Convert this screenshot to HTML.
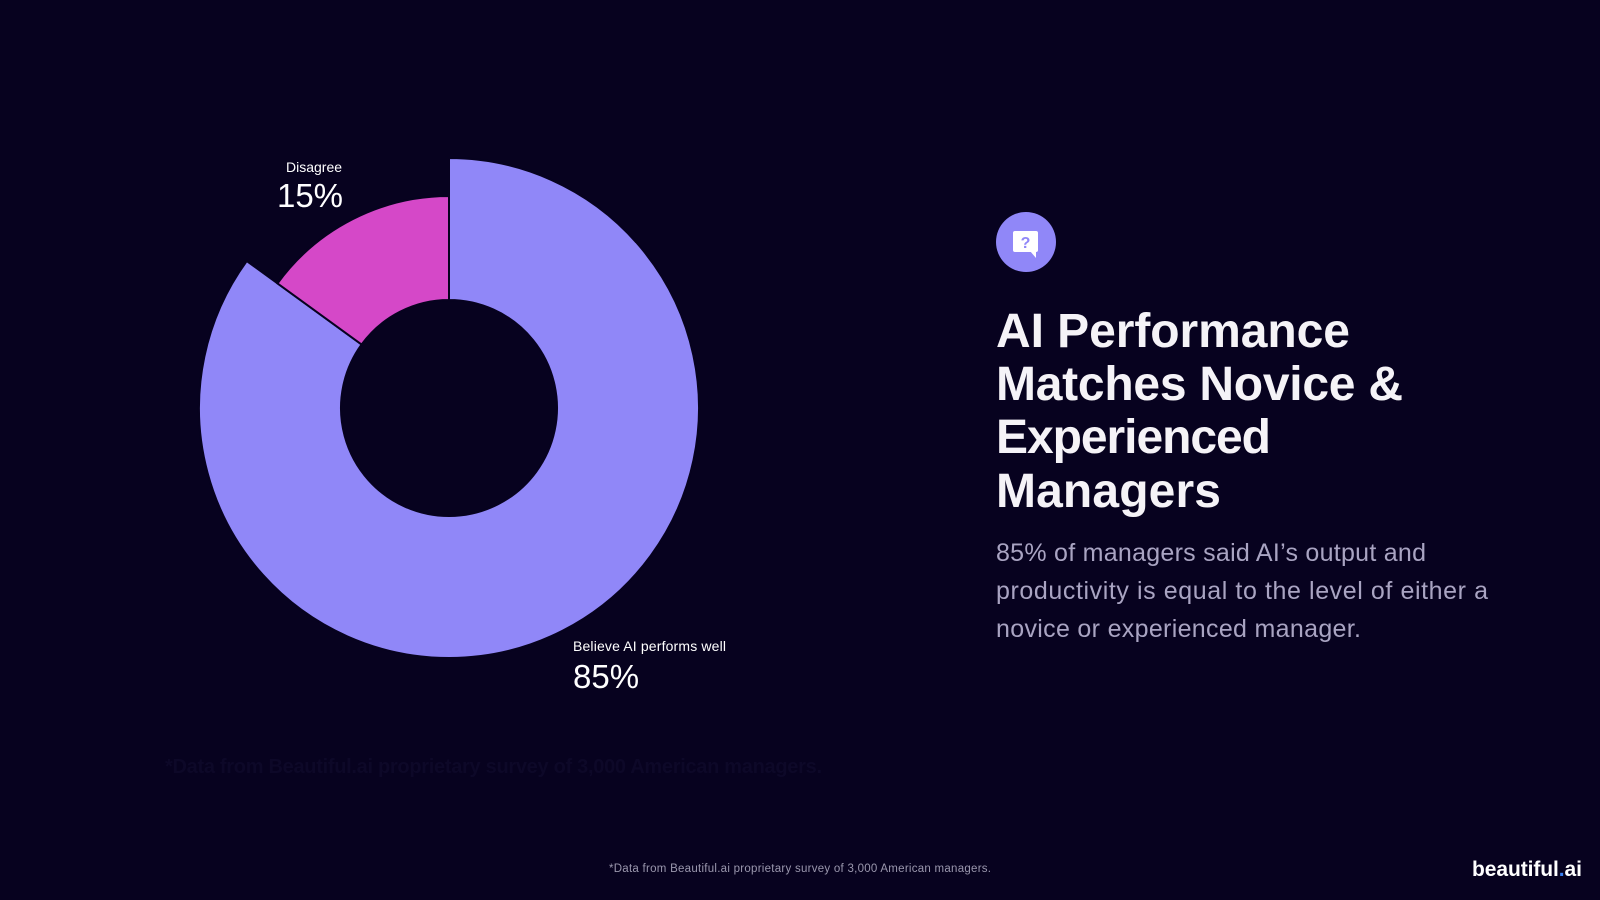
<!DOCTYPE html>
<html><head><meta charset="utf-8"><style>
html,body{margin:0;padding:0;background:#07021f;}
svg{display:block;font-family:"Liberation Sans",sans-serif;}
</style></head><body>
<svg width="1600" height="900" viewBox="0 0 1600 900">
<rect width="1600" height="900" fill="#07021f"/>
<g id="donut"></g>
<text x="314" y="172" fill="#fff" font-size="14" text-anchor="middle">Disagree</text>
<text x="310" y="207" fill="#fff" font-size="33" text-anchor="middle">15%</text>
<text x="573" y="651" fill="#fff" font-size="14" textLength="153">Believe AI performs well</text>
<text x="573" y="688" fill="#fff" font-size="33">85%</text>
<text x="165" y="773" fill="#0d0828" font-size="20" font-weight="bold" textLength="657">*Data from Beautiful.ai proprietary survey of 3,000 American managers.</text>
<g>
<circle cx="1026" cy="242" r="30" fill="#9087f8"/>
<rect x="1013" y="231" width="25" height="21" rx="2" fill="#fff"/>
<polygon points="1030,251 1036,251 1036,258" fill="#fff"/>
<text x="1025.5" y="248" fill="#9087f8" font-size="16" font-weight="bold" text-anchor="middle">?</text>
</g>
<g fill="#f5f3f7" font-size="48" font-weight="bold">
<text x="996" y="347" textLength="354">AI Performance</text>
<text x="996" y="400" textLength="407">Matches Novice &amp;</text>
<text x="996" y="453" textLength="275">Experienced</text>
<text x="996" y="507" textLength="225">Managers</text>
</g>
<g fill="#a9a4c2" font-size="25">
<text x="996" y="561" textLength="430">85% of managers said AI’s output and</text>
<text x="996" y="599" textLength="492">productivity is equal to the level of either a</text>
<text x="996" y="637" textLength="365">novice or experienced manager.</text>
</g>
<text x="800" y="872" fill="#9a97ad" font-size="11.5" text-anchor="middle" textLength="382">*Data from Beautiful.ai proprietary survey of 3,000 American managers.</text>
<text x="1472" y="876" fill="#fff" font-size="21" font-weight="bold" textLength="110">beautiful<tspan fill="#3b82f6">.</tspan>ai</text>
</svg>
<script>
const categories = ["Believe AI performs well", "Disagree"];
const values = [85, 15];
const colors = ["#9087f8", "#d548c8"];
const outerR = [250, 212];
(function(){
  const g = document.getElementById('donut');
  const cx = 449, cy = 408, rIn = 108;
  const total = values.reduce((a,b)=>a+b,0);
  // Disagree ends at top; Believe starts at top going clockwise
  let start = 0;
  const pt = (r,a)=>[cx + r*Math.sin(a), cy - r*Math.cos(a)];
  values.forEach((v,i)=>{
    const a0 = start/total*2*Math.PI, a1 = (start+v)/total*2*Math.PI;
    start += v;
    const R = outerR[i];
    const large = (a1-a0) > Math.PI ? 1 : 0;
    const p0 = pt(R,a0), p1 = pt(R,a1), q1 = pt(rIn,a1), q0 = pt(rIn,a0);
    const d = `M${p0[0]},${p0[1]} A${R},${R} 0 ${large} 1 ${p1[0]},${p1[1]} L${q1[0]},${q1[1]} A${rIn},${rIn} 0 ${large} 0 ${q0[0]},${q0[1]} Z`;
    const path = document.createElementNS('http://www.w3.org/2000/svg','path');
    path.setAttribute('d', d);
    path.setAttribute('fill', colors[i]);
    path.setAttribute('stroke', '#07021f');
    path.setAttribute('stroke-width', '2');
    
    
    g.appendChild(path);
  });
})();
</script>
</body></html>
